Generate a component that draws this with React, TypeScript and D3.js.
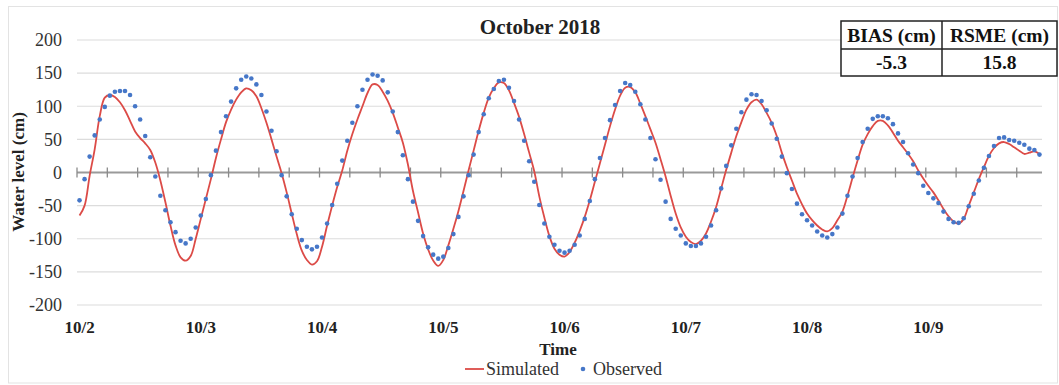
import React from "react";
import * as d3 from "d3";

const titleText = "October 2018";
const xLabels = ["10/2", "10/3", "10/4", "10/5", "10/6", "10/7", "10/8", "10/9"];
const yTicks = [200, 150, 100, 50, 0, -50, -100, -150, -200];
const tableHeaders = ["BIAS (cm)", "RSME (cm)"];
const tableValues = ["-5.3", "15.8"];

// hourly observed water level (cm), starting 10/2 00:00
const observed = [
  -42, -10, 24, 56, 80, 99, 116, 122, 123, 123, 117, 100, 80, 55, 23, -6, -35, -57, -75, -90, -103, -107, -100, -83,
  -65, -40, -4, 33, 61, 85, 107, 127, 140, 145, 142, 133, 117, 92, 63, 32, -4, -36, -63, -85, -102, -112, -116, -112,
  -98, -77, -49, -17, 18, 48, 75, 100, 125, 140, 148, 146, 139, 121, 92, 61, 26, -10, -44, -73, -96, -113, -124, -130,
  -127, -114, -93, -67, -36, -4, 27, 61, 88, 112, 126, 138, 140, 128, 108, 80, 48, 17, -14, -49, -77, -97, -109, -118,
  -121, -118, -109, -95, -70, -43, -10, 22, 52, 79, 102, 123, 135, 132, 122, 103, 80, 52, 20, -11, -44, -70, -85, -95,
  -107, -111, -111, -107, -97, -80, -57, -24, 10, 41, 66, 91, 110, 118, 117, 108, 94, 74, 51, 24, -1, -25, -47, -63,
  -72, -80, -89, -95, -98, -93, -83, -62, -35, -6, 22, 46, 66, 81, 85, 85, 82, 73, 59, 46, 29, 12, -1, -20,
  -31, -39, -46, -59, -70, -75, -76, -69, -51, -32, -12, 7, 25, 40, 52, 53, 49, 48, 45, 42, 36, 34, 27,
];

// hourly simulated water level (cm)
const simulated = [
  -65, -50, -5, 35, 85, 113, 117, 114, 106, 94, 78, 62, 52, 44, 34, 15, -12, -45, -80, -110, -128, -133, -126, -100,
  -70, -40, -10, 22, 50, 76, 95, 110, 121, 127, 124, 115, 97, 75, 50, 24, -1, -30, -62, -93, -118, -132, -139, -134,
  -112, -80, -50, -22, 3, 33, 58, 80, 100, 120, 133, 132, 122, 108, 90, 68, 45, 12, -28, -60, -92, -116, -133, -141,
  -132, -110, -85, -58, -28, 3, 33, 63, 90, 113, 127, 136, 135, 124, 105, 84, 58, 30, 2, -36, -68, -96, -115, -124,
  -127, -120, -106, -88, -67, -42, -14, 14, 42, 70, 95, 116, 128, 129, 121, 104, 85, 65, 45, 20, -6, -35, -62, -83,
  -97, -105, -108, -103, -92, -74, -52, -24, 4, 30, 55, 76, 95, 106, 110, 103, 90, 75, 55, 30, 8, -12, -32, -48,
  -62, -72, -80, -86, -89, -84, -72, -59, -35, -8, 18, 42, 58, 70, 78, 78, 71, 60, 48, 38, 28, 17, 3, -9,
  -20, -30, -42, -55, -66, -74, -77, -70, -50, -30, -10, 8, 25, 37, 44, 46, 43, 38, 33, 28, 30, 32, 28,
];

const FONT = "'Liberation Serif', 'Times New Roman', serif";

export default function App() {
  const W = 1059;
  const H = 385;
  const n = observed.length;
  const x = d3.scaleLinear().domain([0, n]).range([77, 1042]);
  const y = d3.scaleLinear().domain([-200, 200]).range([305, 40]);
  const cx = (i: number) => x(i + 0.5);

  const line = d3
    .line<number>()
    .x((_, i) => cx(i))
    .y((d) => y(d))
    .curve(d3.curveCatmullRom.alpha(0.5));

  const tickIdx = d3.range(0, n, 6);

  const tX0 = 841, tX1 = 942, tX2 = 1057, tY0 = 21, tY1 = 49, tY2 = 76;

  return (
    <svg
      width={W}
      height={H}
      style={{ position: "absolute", left: 0, top: 0, background: "#fff" }}
      fontFamily={FONT}
    >
      <rect x={0} y={0} width={W} height={H} fill="#fff" />
      <rect x={8.5} y={6.5} width={1049} height={376.5} fill="none" stroke="#e3e3e3" strokeWidth={1} />

      {/* gridlines */}
      {yTicks.filter((t) => t !== 0).map((t) => (
        <line key={t} x1={77} x2={1042} y1={y(t)} y2={y(t)} stroke="#dcdcdc" strokeWidth={1.2} />
      ))}

      {/* y tick labels */}
      {yTicks.map((t) => (
        <text key={t} x={62} y={y(t)} dy="0.35em" textAnchor="end" fontSize={18} fill="#333">
          {t}
        </text>
      ))}

      {/* zero axis */}
      <line x1={77} x2={1042} y1={y(0)} y2={y(0)} stroke="#9a9a9a" strokeWidth={2.2} />
      {tickIdx.map((i) => (
        <line key={i} x1={x(i)} x2={x(i)} y1={y(0) - 5} y2={y(0) + 5} stroke="#8a8a8a" strokeWidth={1.3} />
      ))}

      {/* simulated line */}
      <path d={line(simulated) || ""} fill="none" stroke="#dc4b47" strokeWidth={1.8} />

      {/* observed dots */}
      {observed.map((v, i) => (
        <circle key={i} cx={cx(i)} cy={y(v)} r={2.3} fill="#4677c8" />
      ))}

      {/* x labels */}
      {xLabels.map((l, k) => (
        <text key={l} x={cx(k * 24)} y={333} textAnchor="middle" fontSize={17} fontWeight="bold" fill="#222">
          {l}
        </text>
      ))}

      <text x={558} y={355} textAnchor="middle" fontSize={17} fontWeight="bold" fill="#222">
        Time
      </text>
      <text
        transform={`translate(24,${172}) rotate(-90)`}
        textAnchor="middle"
        fontSize={17}
        fontWeight="bold"
        fill="#222"
      >
        Water level (cm)
      </text>

      <text x={540} y={34} textAnchor="middle" fontSize={21} fontWeight="bold" fill="#222">
        {titleText}
      </text>

      {/* legend */}
      <line x1={465} x2={484} y1={369} y2={369} stroke="#dc4b47" strokeWidth={1.8} />
      <text x={486} y={375} fontSize={18} fill="#333">
        Simulated
      </text>
      <circle cx={583} cy={369} r={2.3} fill="#4677c8" />
      <text x={593} y={375} fontSize={18} fill="#333">
        Observed
      </text>

      {/* stats table */}
      <g stroke="#222" strokeWidth={1.5} fill="none">
        <rect x={tX0} y={tY0} width={tX2 - tX0} height={tY2 - tY0} fill="#fff" />
        <line x1={tX0} x2={tX2} y1={tY1} y2={tY1} />
        <line x1={tX1} x2={tX1} y1={tY0} y2={tY2} />
      </g>
      {tableHeaders.map((h, k) => (
        <text
          key={h}
          x={k === 0 ? (tX0 + tX1) / 2 : (tX1 + tX2) / 2}
          y={42}
          textAnchor="middle"
          fontSize={19.5}
          fontWeight="bold"
          fill="#111"
        >
          {h}
        </text>
      ))}
      {tableValues.map((v, k) => (
        <text
          key={v}
          x={k === 0 ? (tX0 + tX1) / 2 : (tX1 + tX2) / 2}
          y={69}
          textAnchor="middle"
          fontSize={19.5}
          fontWeight="bold"
          fill="#111"
        >
          {v}
        </text>
      ))}
    </svg>
  );
}
